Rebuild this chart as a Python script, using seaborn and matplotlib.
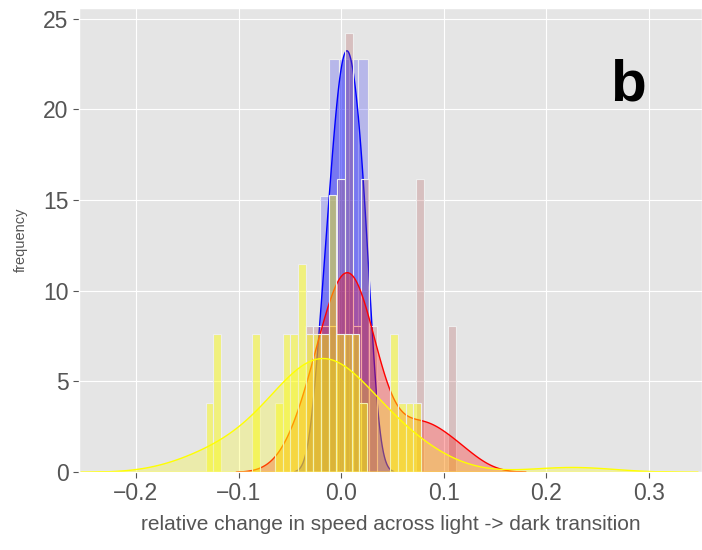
import numpy as np
import pandas as pd
import seaborn as sns
import matplotlib.pyplot as plt

# relative change in speed, one list per group
blue_vals = [-0.021, -0.015,
             -0.009, -0.006, -0.003,
             0.000, 0.003, 0.006,
             0.009, 0.011, 0.014,
             0.019, 0.022, 0.026]

red_vals = [-0.035, -0.023, -0.016, -0.008,
            -0.001, 0.002,
            0.005, 0.008, 0.010,
            0.015, 0.021, 0.025, 0.031,
            0.075, 0.078, 0.112]

yellow_vals = [-0.132, -0.121, -0.120,
               -0.084, -0.082, -0.061,
               -0.054, -0.052, -0.046, -0.045,
               -0.039, -0.038, -0.036, -0.031, -0.030,
               -0.024, -0.022, -0.016, -0.015,
               -0.010, -0.009, -0.008, -0.007,
               -0.002, 0.000, 0.005, 0.007, 0.013, 0.015, 0.020,
               0.050, 0.052, 0.059, 0.066, 0.074,
               0.225]

x_ticks = [-0.2, -0.1, 0.0, 0.1, 0.2, 0.3]
y_ticks = [0, 5, 10, 15, 20, 25]

plt.style.use('ggplot')
plt.rcParams['font.family'] = ['Liberation Sans', 'DejaVu Sans']

fig = plt.figure(figsize=(7.02, 5.5), dpi=100)
ax = fig.add_axes([0.1125, 0.142, 0.8875, 0.8435])

# (values, bins, bin range, bar colour, kde colour, bar alpha, kde alpha, bw)
groups = [
    (blue_vals, 5, None, 'blue', 'blue', 0.2, 0.35, 1.0),
    (red_vals, 19, None, '#b05050', 'red', 0.25, 0.3, 1.0),
    (yellow_vals, 28, (-0.132, 0.0777), 'yellow', 'yellow', 0.45, 0.25, 1.3),
]

for vals, nbins, brange, bar_col, kde_col, bar_a, kde_a, bw in groups:
    sns.histplot(x=vals, bins=nbins, binrange=brange, stat='density',
                 color=bar_col, alpha=bar_a, edgecolor='#EEEEEE',
                 linewidth=0.8, ax=ax)
    sns.kdeplot(x=vals, fill=True, color=kde_col, alpha=kde_a, bw_adjust=bw,
                linewidth=1.0, ax=ax)

ax.set_xlim(-0.2555, 0.3516)
ax.set_ylim(0, 25.6)
ax.set_xticks(x_ticks)
ax.set_yticks(y_ticks)
ax.tick_params(labelsize=16.5, colors='#555555', length=4)
ax.set_xlabel('relative change in speed across light -> dark transition',
              fontsize=15, color='#555555', labelpad=7)
ax.set_ylabel('frequency', fontsize=10.5, color='#555555', labelpad=11)

ax.text(0.881, 0.80, 'b', transform=ax.transAxes, fontsize=42,
        fontweight='bold', color='black', ha='center', va='baseline')

fig.savefig('out.png', dpi=100)
